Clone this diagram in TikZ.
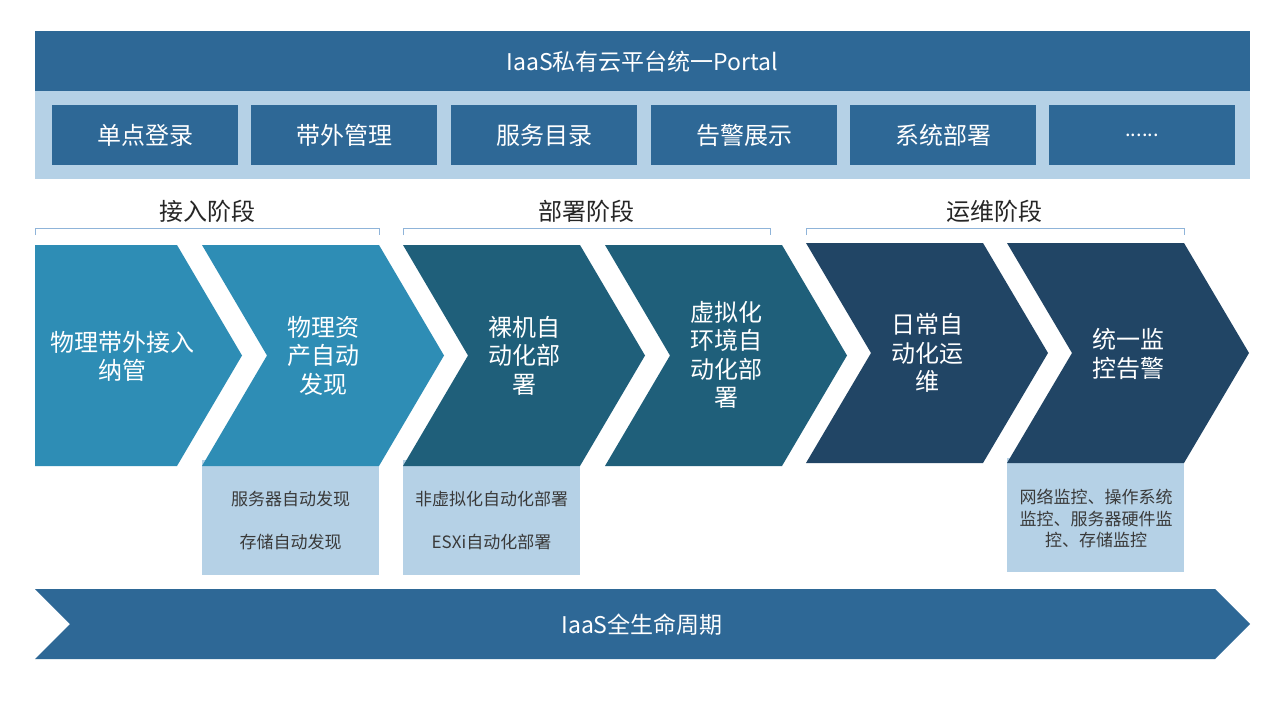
\documentclass[tikz,border=0pt]{standalone}
\usepackage{fontspec}
\setmainfont{Noto Sans CJK SC}
\definecolor{hdr}{RGB}{46,104,150}
\definecolor{lite}{RGB}{181,209,230}
\definecolor{cA}{RGB}{46,141,181}
\definecolor{cB}{RGB}{31,95,122}
\definecolor{cC}{RGB}{33,69,101}
\definecolor{brk}{RGB}{143,180,217}
\definecolor{txtdark}{RGB}{38,38,38}
\definecolor{txtbox}{RGB}{58,58,58}
\tikzset{
  portalbox/.style={fill=hdr, draw=none, inner sep=0pt, outer sep=0pt, minimum width=186pt, minimum height=60pt, text=white, font=\fontsize{24}{28}\selectfont},
  chevtext/.style={text=white, align=center, inner sep=0pt, font=\fontsize{24}{28.5}\selectfont},
  stagelabel/.style={text=txtdark, inner sep=0pt, font=\fontsize{24}{28}\selectfont},
  bracketline/.style={draw=brk, line width=1pt},
  notebox/.style={fill=lite, draw=none},
  notetext/.style={text=txtbox, align=center, inner sep=0pt, font=\fontsize{17}{21.5}\selectfont}
}
\begin{document}
\begin{tikzpicture}[x=1pt,y=-1pt]
\useasboundingbox[fill=white] (0,0) rectangle (1280,720);

% Portal header and band
\fill[lite] (35,91) rectangle (1250,179);
\fill[hdr] (35,31) rectangle (1250,91);
\node[inner sep=0pt, text=white, font=\fontsize{23}{27}\selectfont] (portal) at (642.5,62) {IaaS私有云平台统一Portal};
\node[portalbox] (p1) at (145,135) {单点登录};
\node[portalbox] (p2) at (344,135) {带外管理};
\node[portalbox] (p3) at (544,135) {服务目录};
\node[portalbox] (p4) at (744,135) {告警展示};
\node[portalbox] (p5) at (943,135) {系统部署};
\node[portalbox, font=\fontsize{20}{24}\selectfont] (p6) at (1142,135) {......};

% Stage brackets
\draw[bracketline] (35,235) |- (379,228) -- (379,235);
\draw[bracketline] (403,235) |- (770,228) -- (770,235);
\draw[bracketline] (806,235) |- (1184,228) -- (1184,235);
\node[stagelabel] (s1) at (207,211) {接入阶段};
\node[stagelabel] (s2) at (586,211) {部署阶段};
\node[stagelabel] (s3) at (994,211) {运维阶段};

% Note boxes (under chevrons)
\fill[notebox] (202,460) rectangle (379,575);
\fill[notebox] (403,460) rectangle (580,575);
\fill[notebox] (1007,458) rectangle (1184,572);

% Chevrons
\fill[cA] (35,245) -- (177,245) -- (242,355.5) -- (177,466) -- (35,466) -- cycle;
\fill[cA] (202,245) -- (379,245) -- (444,355.5) -- (379,466) -- (202,466) -- (267,355.5) -- cycle;
\fill[cB] (403,245) -- (580,245) -- (645,355.5) -- (580,466) -- (403,466) -- (468,355.5) -- cycle;
\fill[cB] (605,245) -- (782,245) -- (847,355.5) -- (782,466) -- (605,466) -- (670,355.5) -- cycle;
\fill[cC] (806,243) -- (983,243) -- (1048,353) -- (983,463) -- (806,463) -- (871,353) -- cycle;
\fill[cC] (1007,243) -- (1184,243) -- (1249,353) -- (1184,463) -- (1007,463) -- (1072,353) -- cycle;

\node[chevtext] (k1) at (122,356.5) {物理带外接入\\纳管};
\node[chevtext] (k2) at (323,355.5) {物理资\\产自动\\发现};
\node[chevtext] (k3) at (524,355.5) {裸机自\\动化部\\署};
\node[chevtext] (k4) at (726,355) {虚拟化\\环境自\\动化部\\署};
\node[chevtext] (k5) at (927,353) {日常自\\动化运\\维};
\node[chevtext] (k6) at (1128,354) {统一监\\控告警};

% Note texts
\node[notetext] (n1a) at (290.5,499) {服务器自动发现};
\node[notetext] (n1b) at (290.5,542) {存储自动发现};
\node[notetext] (n2a) at (491.5,499) {非虚拟化自动化部署};
\node[notetext] (n2b) at (491.5,542) {ESXi自动化部署};
\node[notetext] (n3) at (1096,518.5) {网络监控、操作系统\\监控、服务器硬件监\\控、存储监控};

% Lifecycle arrow
\fill[hdr] (35,589) -- (1215,589) -- (1250,624) -- (1215,659) -- (35,659) -- (70,624) -- cycle;
\node[text=white, inner sep=0pt, font=\fontsize{23}{27}\selectfont] (life) at (642,625) {IaaS全生命周期};
\end{tikzpicture}
\end{document}
